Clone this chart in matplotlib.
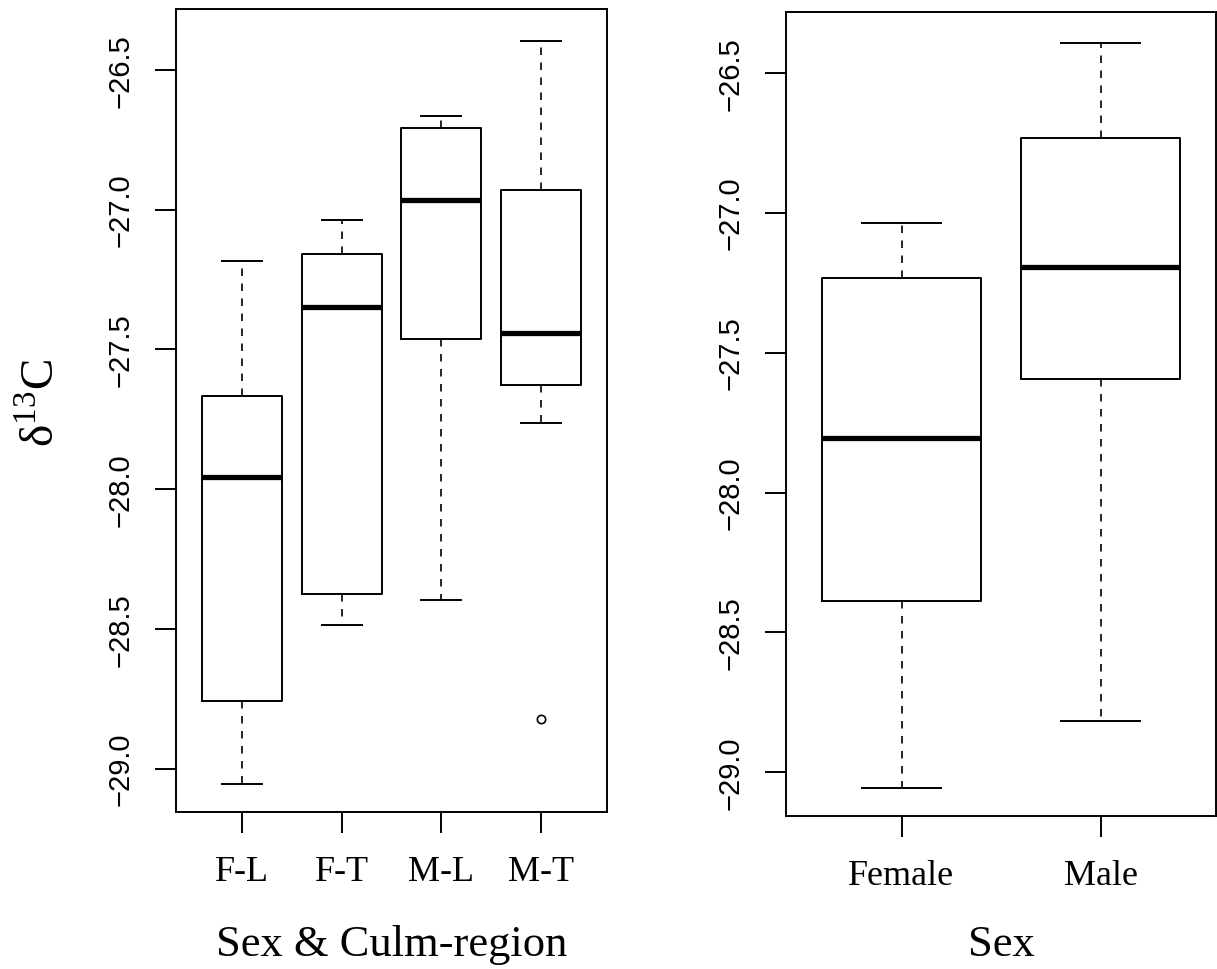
import matplotlib
matplotlib.use("Agg")
import matplotlib.pyplot as plt

plt.rcParams['mathtext.fontset'] = 'custom'
plt.rcParams['mathtext.rm'] = 'Liberation Serif'

# five-number summaries read per group: low whisker, q1, median, q3, high whisker
group_labels = ['F-L', 'F-T', 'M-L', 'M-T']
group_whislo = [-29.055, -28.486, -28.396, -27.762]
group_q1 = [-28.759, -28.376, -27.462, -27.626]
group_med = [-27.958, -27.349, -26.964, -27.443]
group_q3 = [-27.667, -27.158, -26.708, -26.931]
group_whishi = [-27.184, -27.036, -26.664, -26.395]
group_fliers = [[], [], [], [-28.822]]

sex_labels = ['Female', 'Male']
sex_whislo = [-29.055, -28.817]
sex_q1 = [-28.387, -27.595]
sex_med = [-27.807, -27.194]
sex_q3 = [-27.234, -26.733]
sex_whishi = [-27.036, -26.395]
sex_fliers = [[], []]

yticks = [-29.0, -28.5, -28.0, -27.5, -27.0, -26.5]
ylim = (-29.155, -26.282)

serif = 'Liberation Serif'
sans = 'Liberation Sans'


def make_stats(labels, lo, q1, med, q3, hi, fliers):
    return [dict(label=l, whislo=a, q1=b, med=c, q3=d, whishi=e, fliers=f)
            for l, a, b, c, d, e, f in zip(labels, lo, q1, med, q3, hi, fliers)]


def draw_panel(ax, stats, xlabel, label_y):
    n = len(stats)
    ax.bxp(stats, positions=range(1, n + 1), widths=0.8, capwidths=0.4,
           boxprops=dict(color='black', linewidth=1.4),
           whiskerprops=dict(color='black', linewidth=1.2, linestyle=(0, (4.5, 4.5))),
           capprops=dict(color='black', linewidth=1.4),
           medianprops=dict(color='black', linewidth=3.8, solid_capstyle='butt'),
           flierprops=dict(marker='o', markerfacecolor='none', markeredgecolor='black',
                           markersize=6, markeredgewidth=1.2))
    pad = 0.04 * n
    ax.set_xlim(0.5 - pad, n + 0.5 + pad)
    ax.set_ylim(*ylim)
    ax.set_yticks(yticks)
    ax.set_yticklabels([('%.1f' % v).replace('-', '\u2212') for v in yticks],
                       fontfamily=sans, fontsize=21, rotation=90, va='center')
    ax.set_xticks(range(1, n + 1))
    ax.set_xticklabels([s['label'] for s in stats], fontfamily=serif, fontsize=26)
    ax.tick_params(axis='both', direction='out', length=15, width=1.4, colors='black')
    ax.tick_params(axis='y', pad=15)
    ax.tick_params(axis='x', pad=16)
    for sp in ax.spines.values():
        sp.set_linewidth(1.4)
        sp.set_color('black')
    ax.set_xlabel(xlabel, fontfamily=serif, fontsize=32, va='center')
    ax.xaxis.set_label_coords(0.5, label_y)


fig = plt.figure(figsize=(12.17, 9.70), dpi=100)
ax1 = fig.add_axes([0.1446, 0.1619, 0.3542, 0.8278])
ax2 = fig.add_axes([0.6459, 0.1580, 0.3533, 0.8289])

draw_panel(ax1, make_stats(group_labels, group_whislo, group_q1, group_med,
                           group_q3, group_whishi, group_fliers),
           'Sex & Culm-region', -0.165)
draw_panel(ax2, make_stats(sex_labels, sex_whislo, sex_q1, sex_med,
                           sex_q3, sex_whishi, sex_fliers),
           'Sex', -0.16)

ax1.set_ylabel('δ$^{13}$C', fontfamily=serif, fontsize=34, va='center')
ax1.yaxis.set_label_coords(-0.311, 0.51)

fig.savefig('out.png', dpi=100)
